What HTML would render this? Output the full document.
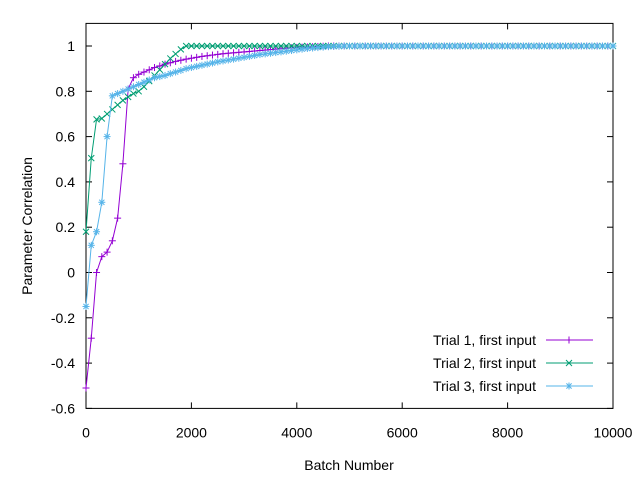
<!DOCTYPE html>
<html><head><meta charset="utf-8"><style>
body{margin:0;background:#fff}
svg text{font-family:"Liberation Sans","DejaVu Sans",sans-serif;font-size:14px;fill:#000}
</style></head><body>
<svg id="chart" width="640" height="480" xmlns="http://www.w3.org/2000/svg"></svg>
<script>
const xTicks=[0,2000,4000,6000,8000,10000];
const yTicks=[-0.6,-0.4,-0.2,0,0.2,0.4,0.6,0.8,1];
const yTickLabels=["-0.6","-0.4","-0.2","0","0.2","0.4","0.6","0.8","1"];
const seriesNames=["Trial 1, first input","Trial 2, first input","Trial 3, first input"];
const trial1=[-0.51,-0.29,0.0,0.07,0.09,0.14,0.24,0.48,0.81,0.86,
0.875,0.885,0.895,0.905,0.912,0.92,0.926,0.932,0.937,0.942,
0.946,0.95,0.954,0.957,0.96,0.963,0.966,0.968,0.97,0.972,
0.974,0.976,0.978,0.98,0.982,0.984,0.986,0.988,0.99,0.992,
0.994,0.995,0.996,0.997,0.998,0.999,1,1,1,1,
1,1,1,1,1,1,1,1,1,1,1,1,1,1,1,1,1,1,1,1,1,1,1,1,1,1,1,1,1,1,
1,1,1,1,1,1,1,1,1,1,1,1,1,1,1,1,1,1,1,1,1];
const trial2=[0.18,0.505,0.676,0.68,0.70,0.72,0.74,0.76,0.775,0.79,
0.80,0.82,0.845,0.87,0.895,0.92,0.945,0.965,0.985,1,
1,1,1,1,1,1,1,1,1,1,1,1,1,1,1,1,1,1,1,1,1,1,1,1,1,1,1,1,1,1,
1,1,1,1,1,1,1,1,1,1,1,1,1,1,1,1,1,1,1,1,1,1,1,1,1,1,1,1,1,1,
1,1,1,1,1,1,1,1,1,1,1,1,1,1,1,1,1,1,1,1,1];
const trial3=[-0.15,0.12,0.18,0.31,0.60,0.78,0.79,0.80,0.81,0.82,
0.83,0.84,0.85,0.86,0.865,0.87,0.878,0.885,0.892,0.90,
0.905,0.91,0.915,0.92,0.925,0.93,0.934,0.938,0.942,0.946,
0.95,0.954,0.958,0.962,0.965,0.968,0.971,0.974,0.977,0.98,
0.983,0.986,0.989,0.991,0.993,0.995,0.997,0.998,0.999,1,
1,1,1,1,1,1,1,1,1,1,1,1,1,1,1,1,1,1,1,1,1,1,1,1,1,1,1,1,1,1,
1,1,1,1,1,1,1,1,1,1,1,1,1,1,1,1,1,1,1,1,1];
const batchStep=100;

const L=86,R=613,T=23.4;
function xs(v){return L+(R-L)*v/10000;}
function ys(v){return 46+(1-v)*226.5;}
const B=ys(-0.6);
const NS="http://www.w3.org/2000/svg";
const svg=document.getElementById('chart');
function mk(tag,attrs,parent){const e=document.createElementNS(NS,tag);for(const k in attrs)e.setAttribute(k,attrs[k]);(parent||svg).appendChild(e);return e;}

const tg=mk('g',{});


xTicks.forEach(v=>{
  const x=xs(v);
  mk('line',{x1:x,y1:B,x2:x,y2:B-6,stroke:'#000'},tg);
  mk('line',{x1:x,y1:T,x2:x,y2:T+6,stroke:'#000'},tg);
  const t=mk('text',{x:x,y:B+29,'text-anchor':'middle'},tg);
  t.textContent=String(v);
  
  
});
yTicks.forEach((v,i)=>{
  const y=ys(v);
  mk('line',{x1:L,y1:y,x2:L+6,y2:y,stroke:'#000'},tg);
  mk('line',{x1:R,y1:y,x2:R-6,y2:y,stroke:'#000'},tg);
  const t=mk('text',{x:75,y:y+5,'text-anchor':'end'},tg);
  t.textContent=yTickLabels[i];
  
  
});
const box=mk('rect',{x:L,y:T,width:R-L,height:B-T,fill:'none',stroke:'#000'});



const yt=mk('text',{x:0,y:0,'text-anchor':'middle',transform:'translate(32,226) rotate(-90)'});
yt.textContent='Parameter Correlation';


const xt=mk('text',{x:349,y:470,'text-anchor':'middle'});
xt.textContent='Batch Number';



const colors=['#9400d3','#009e73','#56b4e9'];
function marker(g,type,x,y,c){
  const s=3.5;
  if(type!==1){mk('line',{x1:x-s,y1:y,x2:x+s,y2:y,stroke:c},g);mk('line',{x1:x,y1:y-s,x2:x,y2:y+s,stroke:c},g);}
  if(type!==0){const d=type===2?2.6:3;mk('line',{x1:x-d,y1:y-d,x2:x+d,y2:y+d,stroke:c},g);mk('line',{x1:x-d,y1:y+d,x2:x+d,y2:y-d,stroke:c},g);}
}
[trial1,trial2,trial3].forEach((arr,si)=>{
  const g=mk('g',{});
  
  
  const pts=arr.map((v,i)=>xs(i*batchStep).toFixed(2)+','+ys(v).toFixed(2)).join(' ');
  mk('polyline',{points:pts,fill:'none',stroke:colors[si],'stroke-width':1},g);
  arr.forEach((v,i)=>marker(g,si,xs(i*batchStep),ys(v),colors[si]));
  const lg=mk('g',{});
  
  
  const ly=340+si*23;
  const t=mk('text',{x:536,y:ly+5,'text-anchor':'end'},lg);
  t.textContent=seriesNames[si];
  mk('line',{x1:546,y1:ly,x2:593,y2:ly,stroke:colors[si]},lg);
  marker(lg,si,569,ly,colors[si]);
});
</script>
</body></html>
